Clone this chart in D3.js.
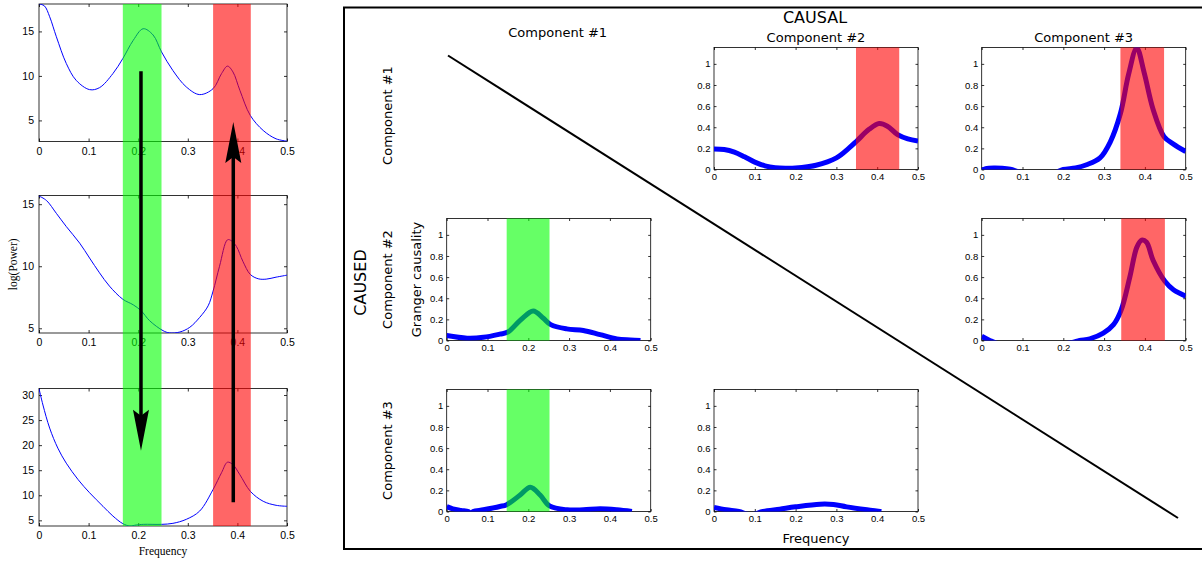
<!DOCTYPE html>
<html><head><meta charset="utf-8">
<script src="https://cdn.jsdelivr.net/npm/d3@7"></script>
<style>body{margin:0;background:#fff} svg{display:block}</style>
</head><body><svg width="1202" height="562"></svg>
<script>
// ---------------- DATA ----------------
const freqTicks = [0, 0.1, 0.2, 0.3, 0.4, 0.5];
// Left: log power spectra of three components
const psd1Freq = [0,0.011,0.0215,0.035,0.055,0.075,0.102,0.122,0.149,0.169,0.19,0.21,0.23,0.247,0.27,0.297,0.324,0.351,0.368,0.38,0.391,0.405,0.426,0.452,0.478,0.5];
const psd1Val  = [18.1,17.86,16.65,14.4,11.4,9.5,8.46,8.68,10.26,11.95,14.0,15.3,14.6,12.7,10.6,8.76,7.9,8.57,10.26,11.1,10.45,8.38,5.56,3.87,2.93,2.67];
const psd2Freq = [0,0.015,0.035,0.055,0.082,0.102,0.122,0.142,0.169,0.19,0.206,0.223,0.25,0.263,0.284,0.304,0.324,0.341,0.351,0.364,0.38,0.388,0.398,0.411,0.426,0.442,0.458,0.478,0.5];
const psd2Val  = [15.66,15.3,14.26,13.2,11.86,10.66,9.47,8.4,7.34,6.89,6.41,5.61,4.81,4.63,4.7,5.08,5.88,6.81,8.0,10.0,12.13,12.05,11.6,10.4,9.34,8.99,8.96,9.12,9.28];
const psd3Freq = [0,0.008,0.0215,0.038,0.055,0.079,0.102,0.129,0.149,0.169,0.183,0.196,0.21,0.247,0.27,0.297,0.324,0.351,0.368,0.38,0.391,0.405,0.426,0.452,0.478,0.5];
const psd3Val  = [31.3,28.0,23.4,19.4,16.4,13.1,10.5,7.8,5.86,4.34,3.87,4.07,4.2,4.2,4.4,5.2,6.86,11.16,14.5,16.6,16.1,14.1,10.8,8.8,8.0,7.8];
const psdDomains = [[2.63, 18.08], [4.62, 15.7], [3.87, 31.3]];
const psdYTicks = [[5, 10, 15], [5, 10, 15], [5, 10, 15, 20, 25, 30]];
const leftGreenBand = [0.169, 0.247];
const leftRedBand = [0.351, 0.427];
// arrows: [freq, fromPanel, fromValue, toPanel, toValue]
const arrowDown = [0.2056, 0, 10.52, 2, 18.9];
const arrowUp   = [0.3917, 2, 8.63, 0, 4.81];

// Right: Granger causality (row = caused, col = causal)
const components = ["Component #1", "Component #2", "Component #3"];
const gcYTicks = [0, 0.2, 0.4, 0.6, 0.8, 1];
const gcYMax = 1.155;
const gc12Freq = [0,0.025,0.05,0.075,0.1,0.125,0.15,0.175,0.2,0.25,0.3,0.33,0.35,0.38,0.405,0.425,0.45,0.475,0.5];
const gc12Val  = [0.195,0.19,0.165,0.12,0.07,0.035,0.017,0.012,0.014,0.04,0.11,0.2,0.27,0.38,0.435,0.41,0.33,0.29,0.27];
const gc13Freq = [0,0.01,0.03,0.05,0.07,0.1,0.15,0.18,0.2,0.23,0.257,0.29,0.315,0.34,0.36,0.38,0.398,0.42,0.447,0.47,0.5];
const gc13Val  = [-0.01,0.008,0.015,0.012,0.002,-0.03,-0.05,-0.03,0.0,0.015,0.045,0.11,0.26,0.53,0.9,1.15,0.92,0.57,0.31,0.24,0.17];
const gc21Freq = [0,0.05,0.09,0.13,0.15,0.18,0.212,0.237,0.255,0.294,0.335,0.376,0.417,0.45,0.475];
const gc21Val  = [0.047,0.022,0.03,0.06,0.08,0.19,0.28,0.21,0.15,0.11,0.095,0.055,0.015,0.005,0.0];
const gc23Freq = [0,0.02,0.05,0.15,0.22,0.24,0.265,0.298,0.323,0.342,0.363,0.38,0.392,0.404,0.42,0.449,0.47,0.5];
const gc23Val  = [0.04,0.0,-0.04,-0.06,-0.02,0.0,0.016,0.07,0.15,0.29,0.6,0.88,0.95,0.93,0.76,0.56,0.48,0.42];
const gc31Freq = [0,0.015,0.035,0.053,0.059,0.065,0.09,0.13,0.147,0.18,0.205,0.229,0.252,0.295,0.335,0.376,0.417,0.454];
const gc31Val  = [0.047,0.025,0.01,0.0,-0.02,0.0,0.016,0.047,0.065,0.156,0.23,0.156,0.053,0.016,0.016,0.025,0.016,0.0];
const gc32Freq = [0,0.03,0.061,0.09,0.12,0.161,0.2,0.26,0.293,0.325,0.375,0.407,0.41];
const gc32Val  = [0.038,0.016,0.0,-0.03,0.0,0.022,0.044,0.069,0.066,0.044,0.016,0.0,-0.002];
const gcRedBand12 = [0.348, 0.454];
const gcRedBand13 = [0.340, 0.447];
const gcGreenBand21 = [0.147, 0.252];
const gcRedBand23 = [0.342, 0.449];
const gcGreenBand31 = [0.147, 0.252];

// ---------------- DRAWING ----------------
const svg = d3.select("svg");
const SANS = "'Liberation Sans', Arial, Helvetica, sans-serif";
const DJ = "'DejaVu Sans', sans-serif";
const SERIF = "'Liberation Serif', 'Times New Roman', serif";
const GREEN = "rgb(0,255,0)", RED = "rgb(255,0,0)", BAND_OP = 0.6;
const fmt = d => String(d);
let clipId = 0;

function drawAxes(g, x, y, xt, yt, o) {
  const [x0, x1] = x.range();
  const [yb, ytop] = y.range();
  const style = sel => {
    sel.select(".domain").remove();
    sel.selectAll("line").attr("stroke", "#000").attr("stroke-width", 0.8);
    sel.selectAll("text").attr("font-family", SANS).attr("font-size", o.fs).attr("fill", "#000");
  };
  g.append("g").attr("transform", `translate(0,${yb})`)
    .call(d3.axisBottom(x).tickValues(xt).tickSize(-o.tick).tickPadding(o.padX).tickFormat(fmt)).call(style);
  g.append("g").attr("transform", `translate(0,${ytop})`)
    .call(d3.axisTop(x).tickValues(xt).tickSize(-o.tick).tickFormat("")).call(style);
  g.append("g").attr("transform", `translate(${x0},0)`)
    .call(d3.axisLeft(y).tickValues(yt).tickSize(-o.tick).tickPadding(o.padY).tickFormat(fmt)).call(style);
  g.append("g").attr("transform", `translate(${x1},0)`)
    .call(d3.axisRight(y).tickValues(yt).tickSize(-o.tick).tickFormat("")).call(style);
  g.append("rect").attr("x", x0).attr("y", ytop).attr("width", x1 - x0).attr("height", yb - ytop)
    .attr("fill", "none").attr("stroke", "#000").attr("stroke-width", 0.8);
}

function drawCurve(g, x, y, fr, vals, width) {
  const [x0, x1] = x.range();
  const [yb, ytop] = y.range();
  const id = "clip" + (clipId++);
  g.append("clipPath").attr("id", id).append("rect")
    .attr("x", x0).attr("y", ytop).attr("width", x1 - x0).attr("height", yb - ytop);
  const line = d3.line().x(d => x(d[0])).y(d => y(d[1])).curve(d3.curveCatmullRom.alpha(0.5));
  g.append("path").attr("clip-path", `url(#${id})`)
    .attr("d", line(fr.map((f, i) => [f, vals[i]])))
    .attr("fill", "none").attr("stroke", "#0000ff").attr("stroke-width", width)
    .attr("stroke-linejoin", "round");
}

// ---- Left panel ----
const L = { x0: 39, x1: 287, tops: [4, 195.5, 388.5], h: 137.5 };
const xL = d3.scaleLinear().domain([0, 0.5]).range([L.x0, L.x1]);
const yL = psdDomains.map((d, i) => d3.scaleLinear().domain(d).range([L.tops[i] + L.h, L.tops[i]]));
const psdF = [psd1Freq, psd2Freq, psd3Freq];
const psdV = [psd1Val, psd2Val, psd3Val];
const gL = svg.append("g");
psdF.forEach((f, i) => {
  drawAxes(gL, xL, yL[i], freqTicks, psdYTicks[i], { fs: 10.5, tick: 3, padX: 6, padY: 5 });
  drawCurve(gL, xL, yL[i], f, psdV[i], 1);
});
const bandTop = L.tops[0], bandBot = L.tops[2] + L.h;
[[leftGreenBand, GREEN], [leftRedBand, RED]].forEach(([b, c]) => {
  gL.append("rect").attr("x", xL(b[0])).attr("width", xL(b[1]) - xL(b[0]))
    .attr("y", bandTop).attr("height", bandBot - bandTop)
    .attr("fill", c).attr("fill-opacity", BAND_OP);
});
gL.append("text").attr("transform", `translate(${L.x0 - 22},${L.tops[1] + L.h / 2}) rotate(-90)`)
  .attr("text-anchor", "middle").attr("font-family", SERIF).attr("font-size", 11.5).text("log(Power)");
gL.append("text").attr("x", (L.x0 + L.x1) / 2).attr("y", 555)
  .attr("text-anchor", "middle").attr("font-family", SERIF).attr("font-size", 11.5).text("Frequency");

function drawArrow(a) {
  const [f, p0, v0, p1, v1] = a;
  const x = xL(f), ya = yL[p0](v0), yb = yL[p1](v1);
  const dir = yb > ya ? 1 : -1;
  const headLen = 41, headW = 8, notch = 6;
  gL.append("line").attr("x1", x).attr("x2", x).attr("y1", ya).attr("y2", yb - dir * (headLen - notch - 2))
    .attr("stroke", "#000").attr("stroke-width", 3.5);
  const base = yb - dir * headLen;
  gL.append("path").attr("d", `M${x},${yb} L${x - headW},${base} L${x},${base + dir * notch} L${x + headW},${base} Z`)
    .attr("fill", "#000");
}
drawArrow(arrowDown);
drawArrow(arrowUp);

// ---- Right panel ----
const gR = svg.append("g");
gR.append("rect").attr("x", 344).attr("y", 7.5).attr("width", 870).attr("height", 541.5)
  .attr("fill", "none").attr("stroke", "#000").attr("stroke-width", 2);
const colX = [446.7, 714, 981.7], pw = 204;
const rowY = [47.5, 218.5, 389.5], ph = 122;
const xR = colX.map(c => d3.scaleLinear().domain([0, 0.5]).range([c, c + pw]));
const yR = rowY.map(r => d3.scaleLinear().domain([0, gcYMax]).range([r + ph, r]));

const cells = [
  { r: 0, c: 1, f: gc12Freq, v: gc12Val, band: gcRedBand12, col: RED },
  { r: 0, c: 2, f: gc13Freq, v: gc13Val, band: gcRedBand13, col: RED },
  { r: 1, c: 0, f: gc21Freq, v: gc21Val, band: gcGreenBand21, col: GREEN },
  { r: 1, c: 2, f: gc23Freq, v: gc23Val, band: gcRedBand23, col: RED },
  { r: 2, c: 0, f: gc31Freq, v: gc31Val, band: gcGreenBand31, col: GREEN },
  { r: 2, c: 1, f: gc32Freq, v: gc32Val, band: null, col: null }
];
cells.forEach(cell => {
  const x = xR[cell.c], y = yR[cell.r];
  const g = gR.append("g");
  drawAxes(g, x, y, freqTicks, gcYTicks, { fs: 9.5, tick: 2.5, padX: 4, padY: 3.5 });
  drawCurve(g, x, y, cell.f, cell.v, 5);
  if (cell.band) {
    g.append("rect").attr("x", x(cell.band[0])).attr("width", x(cell.band[1]) - x(cell.band[0]))
      .attr("y", y.range()[1]).attr("height", y.range()[0] - y.range()[1])
      .attr("fill", cell.col).attr("fill-opacity", BAND_OP);
  }
});

// diagonal
gR.append("line").attr("x1", 448).attr("y1", 55.5).attr("x2", 1178).attr("y2", 518)
  .attr("stroke", "#000").attr("stroke-width", 2);

// labels
gR.append("text").attr("x", 815).attr("y", 23).attr("text-anchor", "middle")
  .attr("font-family", DJ).attr("font-size", 16).text("CAUSAL");
const headY = [37, 41.5, 41.5];
components.forEach((c, i) => {
  gR.append("text").attr("x", colX[i] + pw / 2 + (i === 0 ? 9 : 0)).attr("y", headY[i]).attr("text-anchor", "middle")
    .attr("font-family", DJ).attr("font-size", 13).text(c);
  gR.append("text").attr("transform", `translate(392,${rowY[i] + ph / 2 + (i === 0 ? 7 : 0)}) rotate(-90)`)
    .attr("text-anchor", "middle").attr("font-family", DJ).attr("font-size", 13).text(c);
});
gR.append("text").attr("transform", `translate(366,${rowY[1] + ph / 2 + 3}) rotate(-90)`)
  .attr("text-anchor", "middle").attr("font-family", DJ).attr("font-size", 16).text("CAUSED");
gR.append("text").attr("transform", `translate(421,${rowY[1] + ph / 2}) rotate(-90)`)
  .attr("text-anchor", "middle").attr("font-family", DJ).attr("font-size", 13).text("Granger causality");
gR.append("text").attr("x", colX[1] + pw / 2).attr("y", 543).attr("text-anchor", "middle")
  .attr("font-family", DJ).attr("font-size", 13).text("Frequency");
</script>
</body></html>
